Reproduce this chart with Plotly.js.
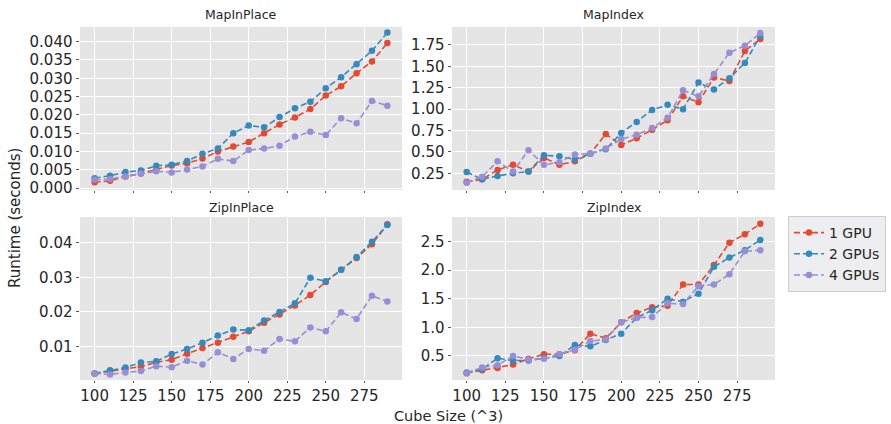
<!DOCTYPE html>
<html>
<head>
<meta charset="utf-8">
<script src="https://cdn.plot.ly/plotly-3.0.1.min.js"></script>
<style>html,body{margin:0;padding:0;background:#fff;}#chart{width:891px;height:424px;}</style>
</head>
<body>
<div id="chart"></div>
<script>
const cubeSizes = [100,110,120,130,140,150,160,170,180,190,200,210,220,230,240,250,260,270,280,290];
const seriesNames = ["1 GPU", "2 GPUs", "4 GPUs"];
const panelTitles = ["MapInPlace", "MapIndex", "ZipInPlace", "ZipIndex"];

const mapInPlace1 = [0.0016,0.0020,0.0032,0.0040,0.0051,0.0062,0.0068,0.0081,0.0100,0.0114,0.0126,0.0150,0.0174,0.0193,0.0216,0.0253,0.0278,0.0314,0.0346,0.0396];
const mapInPlace2 = [0.0027,0.0034,0.0044,0.0048,0.0061,0.0064,0.0074,0.0094,0.0108,0.0150,0.0171,0.0166,0.0194,0.0218,0.0236,0.0273,0.0303,0.0338,0.0375,0.0425];
const mapInPlace4 = [0.0023,0.0025,0.0032,0.0040,0.0046,0.0043,0.0051,0.0059,0.0080,0.0074,0.0104,0.0108,0.0116,0.0141,0.0154,0.0145,0.0191,0.0177,0.0238,0.0225];

const mapIndex1 = [0.15,0.18,0.29,0.35,0.27,0.43,0.35,0.39,0.48,0.71,0.58,0.66,0.76,0.87,1.15,1.08,1.37,1.33,1.68,1.82];
const mapIndex2 = [0.265,0.18,0.22,0.25,0.27,0.46,0.45,0.41,0.48,0.53,0.72,0.85,0.99,1.05,1.00,1.31,1.23,1.36,1.54,1.855];
const mapIndex4 = [0.14,0.21,0.39,0.27,0.52,0.35,0.38,0.47,0.48,0.54,0.65,0.70,0.78,0.90,1.22,1.15,1.41,1.66,1.74,1.89];

const zipInPlace1 = [0.0022,0.0028,0.0035,0.0042,0.0054,0.0062,0.0079,0.0096,0.0111,0.0128,0.0144,0.0169,0.0193,0.0219,0.0249,0.0287,0.0322,0.0356,0.0396,0.0454];
const zipInPlace2 = [0.0022,0.0031,0.0039,0.0054,0.0057,0.0078,0.0093,0.0111,0.0132,0.0149,0.0147,0.0175,0.0200,0.0225,0.0299,0.0289,0.0322,0.0359,0.0403,0.0452];
const zipInPlace4 = [0.0022,0.0019,0.0025,0.0029,0.0043,0.0040,0.0059,0.0048,0.0083,0.0064,0.0093,0.0088,0.0122,0.0115,0.0155,0.0144,0.0199,0.0180,0.0247,0.0230];

const zipIndex1 = [0.20,0.25,0.29,0.35,0.45,0.53,0.53,0.60,0.89,0.81,1.09,1.25,1.35,1.38,1.75,1.75,2.09,2.48,2.63,2.81];
const zipIndex2 = [0.21,0.27,0.46,0.42,0.42,0.46,0.50,0.69,0.67,0.78,0.89,1.17,1.30,1.50,1.45,1.59,2.06,2.22,2.35,2.53];
const zipIndex4 = [0.20,0.30,0.34,0.50,0.44,0.45,0.53,0.61,0.76,0.79,1.09,1.17,1.18,1.42,1.41,1.72,1.75,1.93,2.33,2.35];

const colors = ["#E24A33", "#348ABD", "#988ED5"];
const panels = [
  [mapInPlace1, mapInPlace2, mapInPlace4],
  [mapIndex1, mapIndex2, mapIndex4],
  [zipInPlace1, zipInPlace2, zipInPlace4],
  [zipIndex1, zipIndex2, zipIndex4]
];

const traces = [];
panels.forEach((pan, pi) => {
  const sfx = pi === 0 ? "" : String(pi + 1);
  pan.forEach((vals, si) => {
    traces.push({
      type: "scatter", mode: "lines+markers",
      x: cubeSizes, y: vals,
      name: seriesNames[si],
      legendgroup: seriesNames[si],
      showlegend: pi === 0,
      xaxis: "x" + sfx, yaxis: "y" + sfx,
      line: {color: colors[si], width: 1.6, dash: "6px,3px"},
      marker: {color: colors[si], size: 6.5}
    });
  });
});

const W = 891, H = 424;
const colL = [80/W, 402/W], colR = [452/W, 775/W];
const rowT = [1 - 190/H, 1 - 27/H], rowB = [1 - 380/H, 1 - 217/H];
const tickFont = {family: "DejaVu Sans", size: 15, color: "#262626"};

function xax(dom, anchor, labels) {
  return {domain: dom, anchor: anchor, range: [90.5, 299.5], tick0: 100, dtick: 25,
    showgrid: true, gridcolor: "#FFFFFF", gridwidth: 1, zeroline: false,
    ticks: "outside", ticklen: 2, tickcolor: "#555555", tickwidth: 1,
    showticklabels: labels, tickfont: tickFont, showline: false};
}
function yax(dom, anchor, range, dtick, fmt, tick0) {
  return {domain: dom, anchor: anchor, range: range, dtick: dtick, tick0: tick0, tickformat: fmt,
    showgrid: true, gridcolor: "#FFFFFF", gridwidth: 1, zeroline: false,
    ticks: "outside", ticklen: 3.5, tickcolor: "#555555", tickwidth: 1,
    tickfont: tickFont, showline: false};
}

const titleFont = {family: "DejaVu Sans", size: 12.5, color: "#262626"};
const layout = {
  width: W, height: H,
  margin: {l: 0, r: 0, t: 0, b: 0},
  paper_bgcolor: "#FFFFFF", plot_bgcolor: "#E5E5E5",
  font: {family: "DejaVu Sans", color: "#262626"},
  xaxis: xax(colL, "y", false),
  yaxis: yax(rowT, "x", [-0.0005, 0.0440], 0.005, ".3f", 0),
  xaxis2: xax(colR, "y2", false),
  yaxis2: yax(rowT, "x2", [0.055, 1.96], 0.25, ".2f", 0),
  xaxis3: xax(colL, "y3", true),
  yaxis3: yax(rowB, "x3", [0.0003, 0.0475], 0.01, ".2f", 0),
  xaxis4: xax(colR, "y4", true),
  yaxis4: yax(rowB, "x4", [0.08, 2.93], 0.5, ".1f", 0),
  showlegend: true,
  legend: {x: 788/W, y: 1 - 216/H, xanchor: "left", yanchor: "top",
    bgcolor: "#EEEEF0", bordercolor: "#CCCCCC", borderwidth: 1,
    font: {family: "DejaVu Sans", size: 14, color: "#262626"}, tracegroupgap: 0},
  annotations: [
    {text: panelTitles[0], x: (colL[0]+colL[1])/2, y: 1 - 15/H, xref: "paper", yref: "paper", showarrow: false, xanchor: "center", yanchor: "middle", font: titleFont},
    {text: panelTitles[1], x: (colR[0]+colR[1])/2, y: 1 - 15/H, xref: "paper", yref: "paper", showarrow: false, xanchor: "center", yanchor: "middle", font: titleFont},
    {text: panelTitles[2], x: (colL[0]+colL[1])/2, y: 1 - 207/H, xref: "paper", yref: "paper", showarrow: false, xanchor: "center", yanchor: "middle", font: titleFont},
    {text: panelTitles[3], x: (colR[0]+colR[1])/2, y: 1 - 207/H, xref: "paper", yref: "paper", showarrow: false, xanchor: "center", yanchor: "middle", font: titleFont},
    {text: "Runtime (seconds)", x: 15/W, y: 1 - 218/H, xref: "paper", yref: "paper", showarrow: false, textangle: -90, xanchor: "center", yanchor: "middle", font: {family: "DejaVu Sans", size: 15, color: "#262626"}},
    {text: "Cube Size (^3)", x: 448/W, y: 0, xref: "paper", yref: "paper", showarrow: false, xanchor: "center", yanchor: "bottom", yshift: -2, font: {family: "DejaVu Sans", size: 14.5, color: "#262626"}}
  ]
};

Plotly.newPlot("chart", traces, layout, {displayModeBar: false, staticPlot: true});
</script>
</body>
</html>
